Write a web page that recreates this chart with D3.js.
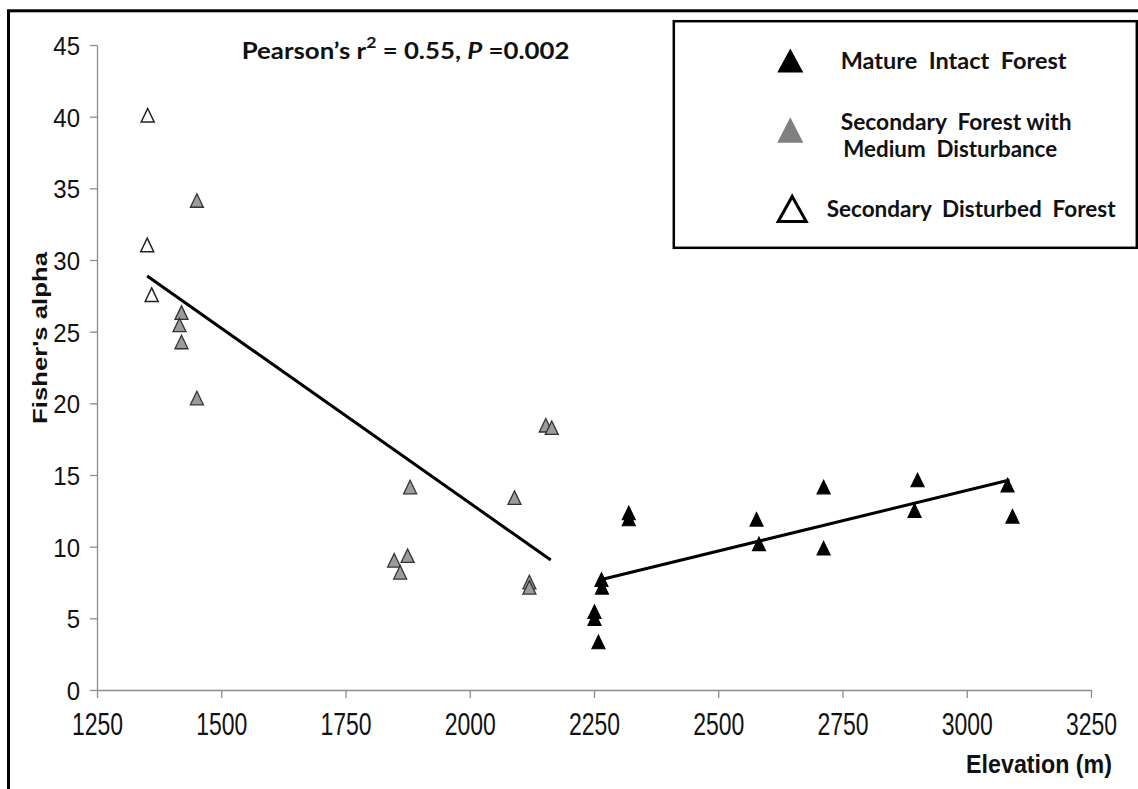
<!DOCTYPE html>
<html>
<head>
<meta charset="utf-8">
<script src="https://cdn.jsdelivr.net/npm/d3@7"></script>
<style>
  body { margin: 0; background: #fff; }
  svg { display: block; }
</style>
</head>
<body>
<script>
// values: [elevation (m), Fisher's alpha]
const matureForest = [
  [2265, 7.70], [2266, 7.16], [2251, 5.46], [2251, 4.98], [2259, 3.35],
  [2320, 12.35], [2320, 11.93], [2577, 11.91], [2582, 10.19], [2712, 14.16],
  [2712, 9.89], [2901, 14.65], [2895, 12.52], [3082, 14.30], [3092, 12.12]
];
const mediumForest = [
  [1451, 34.15], [1420, 26.33], [1416, 25.47], [1420, 24.28], [1451, 20.37],
  [1880, 14.16], [1875, 9.37], [1848, 9.05], [1860, 8.21],
  [2090, 13.42], [2120, 7.53], [2120, 7.16], [2153, 18.47], [2165, 18.30]
];
const disturbedForest = [[1352, 40.1], [1351, 31.05], [1360, 27.58]];

// the two fitted lines, end points
const fitLines = [
  [[1351, 28.88], [2163, 9.07]],
  [[2261, 7.67], [3086, 14.65]]
];

const xTicks = [1250, 1500, 1750, 2000, 2250, 2500, 2750, 3000, 3250];
const yTicks = [0, 5, 10, 15, 20, 25, 30, 35, 40, 45];

const legendLabels = [
  ['Mature  Intact  Forest'],
  ['Secondary  Forest with', 'Medium  Disturbance'],
  ['Secondary  Disturbed  Forest']
];

const W = 1138, H = 789;
const svg = d3.select('body').append('svg').attr('width', W).attr('height', H);

const x = d3.scaleLinear().domain([1250, 3250]).range([97, 1091]);
const y = d3.scaleLinear().domain([0, 45]).range([690, 45]);

// outer frame (cut off on the right and bottom)
svg.append('rect')
  .attr('x', 8.5).attr('y', 10.8)
  .attr('width', 1300).attr('height', 900)
  .attr('fill', 'none').attr('stroke', '#000').attr('stroke-width', 3);

// fit a text element to a width, optional vertical stretch
function place(t, tx, ty, width, sy, rot) {
  const w = t.node().getComputedTextLength();
  const sx = width ? width / w : 1;
  t.attr('transform', `translate(${tx},${ty})${rot ? ` rotate(${rot})` : ''} scale(${sx},${sy || 1})`);
  return t;
}

// axes
const yAxis = svg.append('g')
  .attr('transform', `translate(${x(1250)},0)`)
  .call(d3.axisLeft(y).tickValues(yTicks).tickSize(7).tickSizeOuter(0).tickPadding(10));
const xAxis = svg.append('g')
  .attr('transform', `translate(0,${y(0)})`)
  .call(d3.axisBottom(x).tickValues(xTicks).tickSize(8).tickSizeOuter(0).tickFormat(d3.format('d')));

[yAxis, xAxis].forEach(a => {
  a.select('.domain').attr('stroke', '#8c8c8c').attr('stroke-width', 1.3);
  a.selectAll('.tick line').attr('stroke', '#8c8c8c').attr('stroke-width', 1.3);
  a.selectAll('.tick text')
    .attr('font-family', 'Liberation Sans, Arial, sans-serif')
    .attr('font-size', 23)
    .attr('fill', '#111');
});
yAxis.selectAll('.tick text')
  .attr('font-size', 24)
  .attr('dy', null).attr('y', 0)
  .attr('dominant-baseline', 'central')
  .attr('transform', 'scale(1,1.08)');
xAxis.selectAll('.tick text')
  .attr('dy', null).attr('y', 0)
  .attr('transform', 'translate(0,45) scale(1,1.33)');

// axis titles
place(svg.append('text')
  .attr('font-family', 'Liberation Sans, Arial, sans-serif')
  .attr('font-weight', 'bold').attr('font-size', 23)
  .attr('text-anchor', 'end').attr('fill', '#111')
  .text('Elevation (m)'), 1112, 773, 146, 1.11);

place(svg.append('text')
  .attr('font-family', 'Liberation Sans, Arial, sans-serif')
  .attr('font-weight', 'bold').attr('font-size', 20)
  .attr('text-anchor', 'middle').attr('fill', '#111')
  .text("Fisher's alpha"), 47, 338, 172, 1, -90);

// correlation note
const note = svg.append('text')
  .attr('font-family', 'Lato, sans-serif')
  .attr('font-weight', 'bold').attr('font-size', 22)
  .attr('fill', '#111')
  .style('white-space', 'pre');
note.append('tspan').text('Pearson\u2019s r');
note.append('tspan').attr('font-size', 15).attr('dy', -11).text('2');
note.append('tspan').attr('dy', 11).text(' = 0.55, ');
note.append('tspan').attr('font-style', 'italic').text('P');
note.append('tspan').text(' =0.002');
place(note, 241.7, 59.3, 328);

// markers
const tri = (w, h) => `M0,${-h / 2}L${w / 2},${h / 2}L${-w / 2},${h / 2}Z`;
const groups = [
  { data: disturbedForest, fill: '#fff', stroke: '#222', sw: 1.5 },
  { data: mediumForest, fill: '#9b9b9b', stroke: '#333', sw: 1.3 },
  { data: matureForest, fill: '#000', stroke: '#000', sw: 1.2 }
];
groups.forEach(g => {
  svg.append('g').selectAll('path')
    .data(g.data)
    .join('path')
    .attr('d', tri(13, 13.5))
    .attr('transform', d => `translate(${x(d[0])},${y(d[1])})`)
    .attr('fill', g.fill)
    .attr('stroke', g.stroke)
    .attr('stroke-width', g.sw)
    .attr('stroke-linejoin', 'miter');
});

// fitted lines
const line = d3.line().x(d => x(d[0])).y(d => y(d[1]));
svg.append('g').selectAll('path')
  .data(fitLines)
  .join('path')
  .attr('d', line)
  .attr('fill', 'none')
  .attr('stroke', '#000')
  .attr('stroke-width', 3);

// legend
const legend = svg.append('g');
legend.append('rect')
  .attr('x', 673.8).attr('y', 21.2)
  .attr('width', 463).attr('height', 226.6)
  .attr('fill', '#fff').attr('stroke', '#000').attr('stroke-width', 2.5);

legend.append('path').attr('d', tri(26, 24))
  .attr('transform', 'translate(790.3,60.5)').attr('fill', '#000');
legend.append('path').attr('d', tri(26, 25.4))
  .attr('transform', 'translate(790.3,130)').attr('fill', '#808080');
legend.append('path').attr('d', tri(28, 25))
  .attr('transform', 'translate(792.2,208.9)')
  .attr('fill', '#fff').attr('stroke', '#000').attr('stroke-width', 3);

const legendText = (str, lx, ly, width) => place(legend.append('text')
  .attr('font-family', 'Lato, sans-serif')
  .attr('font-weight', 'bold').attr('font-size', 22)
  .attr('fill', '#111')
  .style('white-space', 'pre')
  .text(str), lx, ly, width);

legendText(legendLabels[0][0], 840.7, 69.3, 226);
legendText(legendLabels[1][0], 840.7, 130, 231);
legendText(legendLabels[1][1], 843.3, 156.7, 214);
legendText(legendLabels[2][0], 826.7, 217.3, 289);
</script>
</body>
</html>
